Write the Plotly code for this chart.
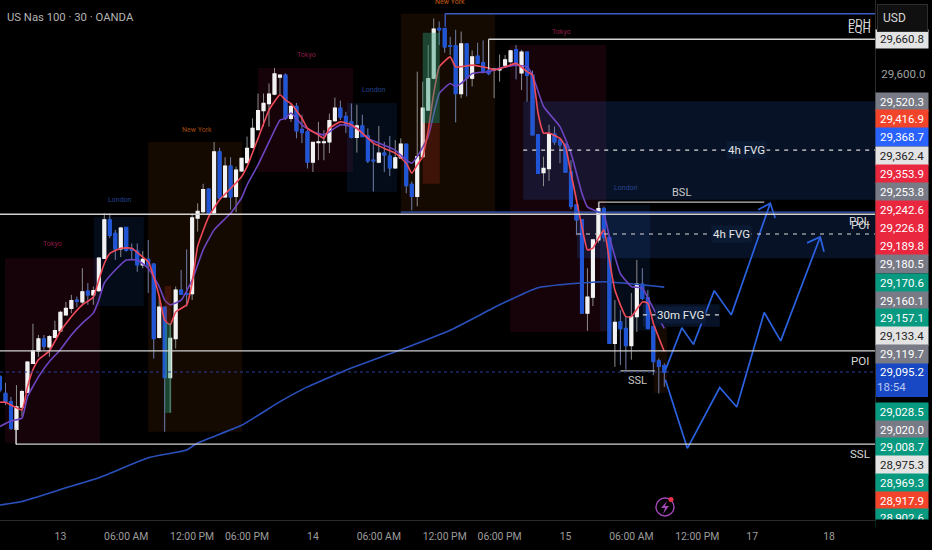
import plotly.graph_objects as go

# 30 minute bars
opens = [29087,29059,29045,28998,29036,29061,29110,29131,29151,29138,
         29154,29165,29192,29203,29217,29214,29232,29226,29233,29288,
         29353,29330,29304,29340,29304,29300,29277,29286,29278,29154,
         29205,29086,29152,29234,29228,29228,29356,29367,29405,29365,
         29468,29392,29444,29393,29436,29450,29476,29506,29538,29550,
         29566,29595,29598,29525,29545,29506,29502,29451,29484,29484,
         29485,29521,29542,29528,29519,29493,29512,29495,29454,29451,
         29466,29461,29441,29458,29481,29413,29393,29460,29539,29593,
         29677,29677,29648,29648,29567,29651,29593,29630,29619,29606,
         29607,29607,29615,29621,29641,29602,29637,29598,29497,29433,
         29440,29498,29488,29481,29434,29378,29353,29195,29222,29319,
         29372,29323,29144,29180,29169,29140,29189,29244,29221,29172,
         29114,29106]
highs = [29090,29077,29053,29073,29065,29113,29177,29158,29158,29158,
         29182,29199,29214,29226,29223,29271,29246,29240,29288,29364,
         29364,29336,29341,29341,29313,29313,29300,29319,29279,29223,
         29205,29178,29240,29268,29303,29364,29381,29414,29406,29485,
         29475,29459,29459,29443,29458,29494,29525,29567,29567,29584,
         29610,29598,29601,29550,29551,29531,29505,29484,29519,29505,
         29533,29560,29555,29536,29550,29548,29531,29508,29483,29512,
         29485,29495,29488,29491,29481,29418,29604,29587,29649,29694,
         29689,29677,29663,29675,29672,29651,29640,29653,29657,29655,
         29608,29633,29632,29641,29649,29641,29637,29606,29497,29460,
         29514,29511,29491,29481,29454,29378,29353,29271,29319,29384,
         29375,29323,29217,29200,29189,29229,29285,29271,29234,29172,
         29118,29110]
lows = [29061,29039,28997,28972,29020,29060,29110,29121,29133,29121,
        29153,29163,29192,29195,29205,29207,29209,29209,29231,29288,
        29322,29285,29290,29299,29285,29265,29271,29229,29118,29152,
        28994,29026,29135,29226,29206,29217,29333,29364,29364,29363,
        29388,29390,29370,29366,29434,29449,29474,29505,29511,29511,
        29564,29566,29522,29519,29491,29483,29440,29434,29454,29454,
        29466,29519,29522,29500,29491,29467,29494,29449,29401,29449,
        29434,29427,29440,29457,29398,29369,29376,29460,29539,29591,
        29649,29636,29632,29518,29559,29562,29579,29618,29601,29598,
        29559,29587,29612,29618,29591,29573,29553,29497,29432,29410,
        29419,29480,29449,29433,29371,29327,29195,29165,29207,29314,
        29316,29144,29104,29107,29099,29116,29163,29217,29169,29090,
        29059,29070]
closes = [29065,29045,29000,29036,29062,29112,29131,29151,29139,29155,
          29165,29196,29203,29216,29215,29231,29226,29233,29288,29353,
          29327,29304,29339,29302,29302,29277,29286,29277,29152,29205,
          29086,29152,29234,29227,29227,29356,29367,29404,29364,29468,
          29390,29444,29392,29437,29457,29474,29508,29538,29550,29566,
          29600,29598,29525,29545,29504,29501,29451,29484,29485,29485,
          29521,29542,29527,29515,29493,29512,29494,29453,29453,29466,
          29463,29441,29458,29481,29411,29393,29460,29542,29592,29676,
          29675,29646,29647,29567,29651,29593,29629,29618,29604,29601,
          29608,29608,29624,29639,29617,29637,29598,29497,29432,29440,
          29498,29485,29480,29434,29376,29353,29195,29222,29319,29372,
          29323,29144,29179,29169,29140,29189,29244,29220,29169,29113,
          29105,29095.2]
bars = list(range(len(opens)))

# moving averages
red_bars = [0,1,4,5,6,7,9,11,13,15,17,18,19,20,22,24,26,27,28,29,30,31,32,34,35,36,38,40,42,
            44,45,47,49,51,52,53,55,56,58,59,60,62,64,66,68,70,72,74,75,76,77,78,79,80,82,83,
            86,89,90,92,94,96,97,98,99,100,102,103,104,105,106,107,108,109,110,111,112,114,115,
            117,118,119,121]
red_ma = [29044,29044,29031,29070,29099,29116,29131,29164,29189,29209,29222,29251,29279,29296,
          29305,29305,29290,29282,29257,29223,29183,29175,29197,29209,29246,29308,29358,29387,
          29406,29426,29443,29491,29539,29565,29556,29550,29525,29508,29497,29491,29508,29519,
          29514,29500,29483,29474,29466,29449,29432,29446,29460,29505,29567,29612,29629,29612,
          29615,29610,29607,29612,29618,29604,29598,29534,29500,29500,29491,29477,29432,29387,
          29341,29302,29305,29322,29336,29285,29234,29189,29189,29214,29212,29178,29130]
purple_bars = [0,2,4,5,7,9,11,13,15,17,18,19,21,23,25,27,29,30,31,33,35,37,39,42,
               44,45,47,49,51,52,53,55,57,59,60,62,65,67,69,72,74,75,76,78,80,82,83,84,86,89,
               91,94,96,97,99,102,104,106,107,110,111,113,115,117,119,121]
purple_ma = [29003,29012,29017,29053,29087,29113,29133,29158,29178,29195,29217,29246,29268,29285,
             29285,29271,29240,29217,29209,29217,29251,29302,29336,29364,29390,29412,29446,29485,
             29522,29525,29534,29514,29502,29497,29502,29514,29508,29491,29483,29471,29454,29449,
             29460,29494,29567,29584,29579,29584,29601,29604,29610,29615,29612,29598,29545,29511,
             29466,29398,29375,29361,29324,29262,29240,29237,29203,29169]
long_bars = [0,4,12,18,27,34,36,44,51,56,64,73,82,91,98,102,110,121]
long_ma = [28870,28876,28899,28916,28950,28963,28975,29005,29045,29070,29102,29133,29166,29209,
           29238,29243,29248,29239]

# projected paths drawn on the chart
path1_bars = [121.3,124.2,126.3,130.1,133.2,140.3]
path1_prices = [29101,29170,29142,29233,29192,29381]
head1_bars = [138.1,140.3,141.2]
head1_prices = [29370,29381,29356]
path2_bars = [121.2,125.2,131.1,134.2,139.2,142.2,149.4]
path2_prices = [29082,28966,29069,29036,29196,29148,29324]
head2_bars = [147,149.4,150.1]
head2_prices = [29314,29324,29299]

# sessions: start bar, end bar, top, bottom
tokyo_boxes = [(0.9,18.2,29288,28975),(47,64.3,29610,29434),(92.9,110.4,29649,29163)]
london_boxes = [(17.1,26.2,29358,29207),(63.2,72.3,29551,29400),(109.3,118.4,29378,29165)]
newyork_boxes = [(27,44.1,29485,28994),(73,90.2,29702,29366),(119.1,121.5,29172,29060)]
fvg_boxes = [(95.3,159.4,29554,29387),(105.1,159.4,29365,29288),(117.1,131.1,29210,29172)]
green_boxes = [(77,80.1,29670,29517),(30,31.2,29178,29026)]
red_boxes = [(77,80.1,29517,29414),(30,31.2,29241,29178)]

# levels: start bar, end bar, price
white_levels = [(0,159.4,29362.4),(0,159.4,29131),(2.9,159.4,28973),(89,159.4,29659)]
blue_levels = [(81.1,159.4,29702),(73,159.4,29366)]
dashed_levels = [(95.3,159.4,29471),(105.1,159.4,29329),(117.1,131.1,29192)]

tick_bars = [11,23,35,45,57,69,81,91,103,115,127,137,151]
tick_labels = ["13","06:00 AM","12:00 PM","06:00 PM","14","06:00 AM","12:00 PM","06:00 PM",
               "15","06:00 AM","12:00 PM","17","18"]

session_labels = [("Tokyo",9.5,29312,"#8a1a45"),("London",21.9,29387,"#23438f"),("New York",35.9,29505,"#a04a10"),
                  ("Tokyo",55.9,29632,"#8a1a45"),("London",68.1,29573,"#23438f"),("New York",82,29722,"#c05a10"),
                  ("Tokyo",102.2,29671,"#8a1a45"),("London",114,29407,"#23438f")]
right_labels = [("PDH",156.6,29686),("EQH",156.6,29676),("PDL",156.6,29351),("POI",156.7,29344),
                ("POI",156.7,29114),("SSL",156.7,28956)]
small_labels = [("BSL",124.2,29399),("SSL",116.1,29080)]
fvg_labels = [("4h FVG",136,29471,"#0b1a33"),("4h FVG",133.2,29329,"#0b1a33"),("30m FVG",124,29192,"#0c1c38")]

# price scale labels: text, centre in px from top, fill, text colour
GRAY, RED, GREEN, LIGHT = "#787b86", "#e9283f", "#089981", "#e3e3e3"
scale_labels = [("29,660.8",39,LIGHT,"#222"),("29,520.3",101.7,GRAY,"#fff"),("29,416.9",119.5,"#f2442a","#fff"),
                ("29,368.7",137.5,"#2962ff","#fff"),("29,362.4",156,LIGHT,"#222"),("29,353.9",174,RED,"#fff"),
                ("29,253.8",192,GRAY,"#fff"),("29,242.6",210,RED,"#fff"),("29,226.8",228,RED,"#fff"),
                ("29,189.8",246,RED,"#fff"),("29,180.5",264,GRAY,"#fff"),("29,170.6",283,GREEN,"#fff"),
                ("29,160.1",300.5,GRAY,"#fff"),("29,157.1",318,GREEN,"#fff"),("29,133.4",336,LIGHT,"#222"),
                ("29,119.7",354,GRAY,"#fff"),("29,028.5",412,GREEN,"#fff"),("29,020.0",429.5,GRAY,"#fff"),
                ("29,008.7",447,GREEN,"#fff"),("28,975.3",465,LIGHT,"#222"),("28,969.3",483,GREEN,"#fff"),
                ("28,917.9",500.5,"#f2442a","#fff"),("28,902.6",518,GREEN,"#fff")]

WIDTH, HEIGHT = 932, 550
PLOT_W, PLOT_H = 875, 520
FONT = "Roboto"


def px(x):
    return x / PLOT_W


def py(y):
    return 1 - y / PLOT_H


def paper_text(x, y, text, size, color, **kwargs):
    kwargs.setdefault("xanchor", "center")
    fig.add_annotation(xref="paper", yref="paper", x=px(x), y=py(y), yanchor="middle", text=text,
                       showarrow=False, font=dict(family=FONT, size=size, color=color), **kwargs)


fig = go.Figure()

# wicks first, then bodies without wicks so the wicks stay gray
fig.add_trace(go.Candlestick(
    x=bars, open=opens, high=highs, low=lows, close=closes,
    increasing=dict(line=dict(color="#8c8c8c", width=1), fillcolor="#8c8c8c"),
    decreasing=dict(line=dict(color="#6f7fa8", width=1), fillcolor="#6f7fa8"),
    hoverinfo="skip", showlegend=False,
))
fig.add_trace(go.Candlestick(
    x=bars, open=opens, close=closes,
    high=[max(o, c) for o, c in zip(opens, closes)],
    low=[min(o, c) for o, c in zip(opens, closes)],
    increasing=dict(line=dict(color="#f2f2f2", width=1.4), fillcolor="#f2f2f2"),
    decreasing=dict(line=dict(color="#1f55d6", width=1.4), fillcolor="#1f55d6"),
    hoverinfo="skip", showlegend=False,
))

for xs, ys, color in [
    (long_bars, long_ma, "#2a50bc"),
    (purple_bars, purple_ma, "#6d45c0"),
    (red_bars, red_ma, "#ee4a5a"),
]:
    fig.add_trace(go.Scatter(x=xs, y=ys, mode="lines", line=dict(color=color, width=1.6, shape="spline", smoothing=0.4),
                             hoverinfo="skip", showlegend=False))

for xs, ys in [(path1_bars, path1_prices), (head1_bars, head1_prices),
               (path2_bars, path2_prices), (head2_bars, head2_prices)]:
    fig.add_trace(go.Scatter(x=xs, y=ys, mode="lines", line=dict(color="#2b62e0", width=1.7),
                             hoverinfo="skip", showlegend=False))

for boxes, color in [(tokyo_boxes, "rgba(110,15,50,0.2)"), (london_boxes, "rgba(30,80,170,0.15)"),
                     (newyork_boxes, "rgba(150,70,10,0.14)"), (fvg_boxes, "rgba(40,90,190,0.2)")]:
    for x0, x1, top, bot in boxes:
        fig.add_shape(type="rect", x0=x0, x1=x1, y0=bot, y1=top, layer="below",
                      fillcolor=color, line_width=0)
for boxes, color in [(green_boxes, "rgba(40,150,115,0.42)"), (red_boxes, "rgba(180,50,30,0.26)")]:
    for x0, x1, top, bot in boxes:
        fig.add_shape(type="rect", x0=x0, x1=x1, y0=bot, y1=top, layer="above",
                      fillcolor=color, line_width=0)

for x0, x1, price in white_levels:
    fig.add_shape(type="line", x0=x0, x1=x1, y0=price, y1=price, line=dict(color="#d2d2d2", width=1.4))
for x0, x1, price in blue_levels:
    fig.add_shape(type="line", x0=x0, x1=x1, y0=price, y1=price, line=dict(color="#3a5cc0", width=1.4))
for x0, x1, price in dashed_levels:
    fig.add_shape(type="line", x0=x0, x1=x1, y0=price, y1=price, line=dict(color="#d8d8d8", width=1.2, dash="4px,5px"))

# short drawn segments: the small level stubs
fig.add_shape(type="line", x0=81.1, x1=81.1, y0=29702, y1=29680, line=dict(color="#3a5cc0", width=1.4))
fig.add_shape(type="line", x0=89, x1=89, y0=29659, y1=29608, line=dict(color="#d2d2d2", width=1.2))
fig.add_shape(type="line", x0=2.9, x1=2.9, y0=28973, y1=29001, line=dict(color="#d2d2d2", width=1.2))
fig.add_shape(type="line", x0=109.1, x1=139.2, y0=29383, y1=29383, line=dict(color="#bdbdbd", width=1.4))
fig.add_shape(type="line", x0=109.1, x1=109.1, y0=29383, y1=29373, line=dict(color="#bdbdbd", width=1.2))
fig.add_shape(type="line", x0=113, x1=119.3, y0=29097, y1=29097, line=dict(color="#bdbdbd", width=1.2))
fig.add_shape(type="line", x0=0, x1=159.4, y0=29095.2, y1=29095.2, line=dict(color="#2a3f9a", width=1, dash="dot"))

for text, x, y, color in session_labels:
    fig.add_annotation(x=x, y=y, text=text, showarrow=False, font=dict(family=FONT, size=7, color=color))
for text, x, y in right_labels:
    fig.add_annotation(x=x, y=y, text=text, showarrow=False, font=dict(family=FONT, size=11.5, color="#d8d8d8"))
for text, x, y in small_labels:
    fig.add_annotation(x=x, y=y, text=text, showarrow=False, font=dict(family=FONT, size=11, color="#c8c8c8"))
for text, x, y, bg in fvg_labels:
    fig.add_annotation(x=x, y=y, text=text, showarrow=False, bgcolor=bg, borderpad=1,
                       font=dict(family=FONT, size=11.5, color="#e6e6e6"))

paper_text(5, 18, "US Nas 100 · 30 · OANDA", 11.3, "#b4b4b4", xanchor="left")

# price scale pills
for text, y, fill, color in scale_labels:
    paper_text(902, y, text, 11.5, color, width=52, height=17.6, bgcolor=fill, borderpad=0)
fig.add_shape(type="rect", xref="paper", yref="paper", x0=px(876), x1=px(928), y0=py(397), y1=py(363),
              fillcolor="#1848c4", line_width=0)
paper_text(902, 372, "29,095.2", 11.5, "#ffffff")
paper_text(892, 387, "18:54", 11.5, "#b8c8f0")

# the lowest pill is cut by the time axis, the top one by the currency button
paper_text(904, 535, " ", 10, "#000000", width=57, height=30, bgcolor="#000000", borderpad=0)
paper_text(902.5, 18, " ", 10, "#000000", width=49, height=26, bgcolor="#101010", bordercolor="#2e2e2e",
           borderwidth=1, borderpad=0)
paper_text(894, 18, "USD", 12, "#d8d8d8")

# flash icon near the bottom
fig.add_shape(type="circle", xref="paper", yref="paper", x0=px(656), x1=px(674), y0=py(516), y1=py(498),
              line=dict(color="#a348b8", width=1.4))
bolt = [(667, 501), (661, 508), (665, 508), (663, 514), (669, 506), (665, 506)]
path = "M " + " L ".join(f"{px(x)} {py(y)}" for x, y in bolt) + " Z"
fig.add_shape(type="path", xref="paper", yref="paper", path=path, fillcolor="#a348b8", line_width=0)
fig.add_shape(type="circle", xref="paper", yref="paper", x0=px(668.5), x1=px(673.5), y0=py(502), y1=py(497),
              fillcolor="#e8324a", line_width=0)

fig.update_layout(
    width=WIDTH, height=HEIGHT, autosize=False,
    margin=dict(l=0, r=WIDTH - PLOT_W, t=0, b=HEIGHT - PLOT_H, pad=0),
    paper_bgcolor="#000000", plot_bgcolor="#000000", showlegend=False,
    xaxis=dict(range=[0, PLOT_W / 5.49], rangeslider_visible=False, showgrid=False, zeroline=False,
               tickvals=tick_bars, ticktext=tick_labels, ticks="outside", ticklen=7, tickcolor="rgba(0,0,0,0)",
               showline=True, linecolor="#2a2a2a",
               tickfont=dict(family=FONT, size=10.4, color="#9c9c9c")),
    yaxis=dict(range=[28844.5, 29725.4], side="right", showgrid=False, zeroline=False,
               tickvals=[29600], ticktext=["29,600.0"], ticks="outside", ticklen=3, tickcolor="rgba(0,0,0,0)",
               showline=True, linecolor="#2a2a2a",
               tickfont=dict(family=FONT, size=11.5, color="#a0a0a0")),
)

fig.write_html("out.html", post_script="document.body.style.margin='0';", config=dict(displayModeBar=False))
